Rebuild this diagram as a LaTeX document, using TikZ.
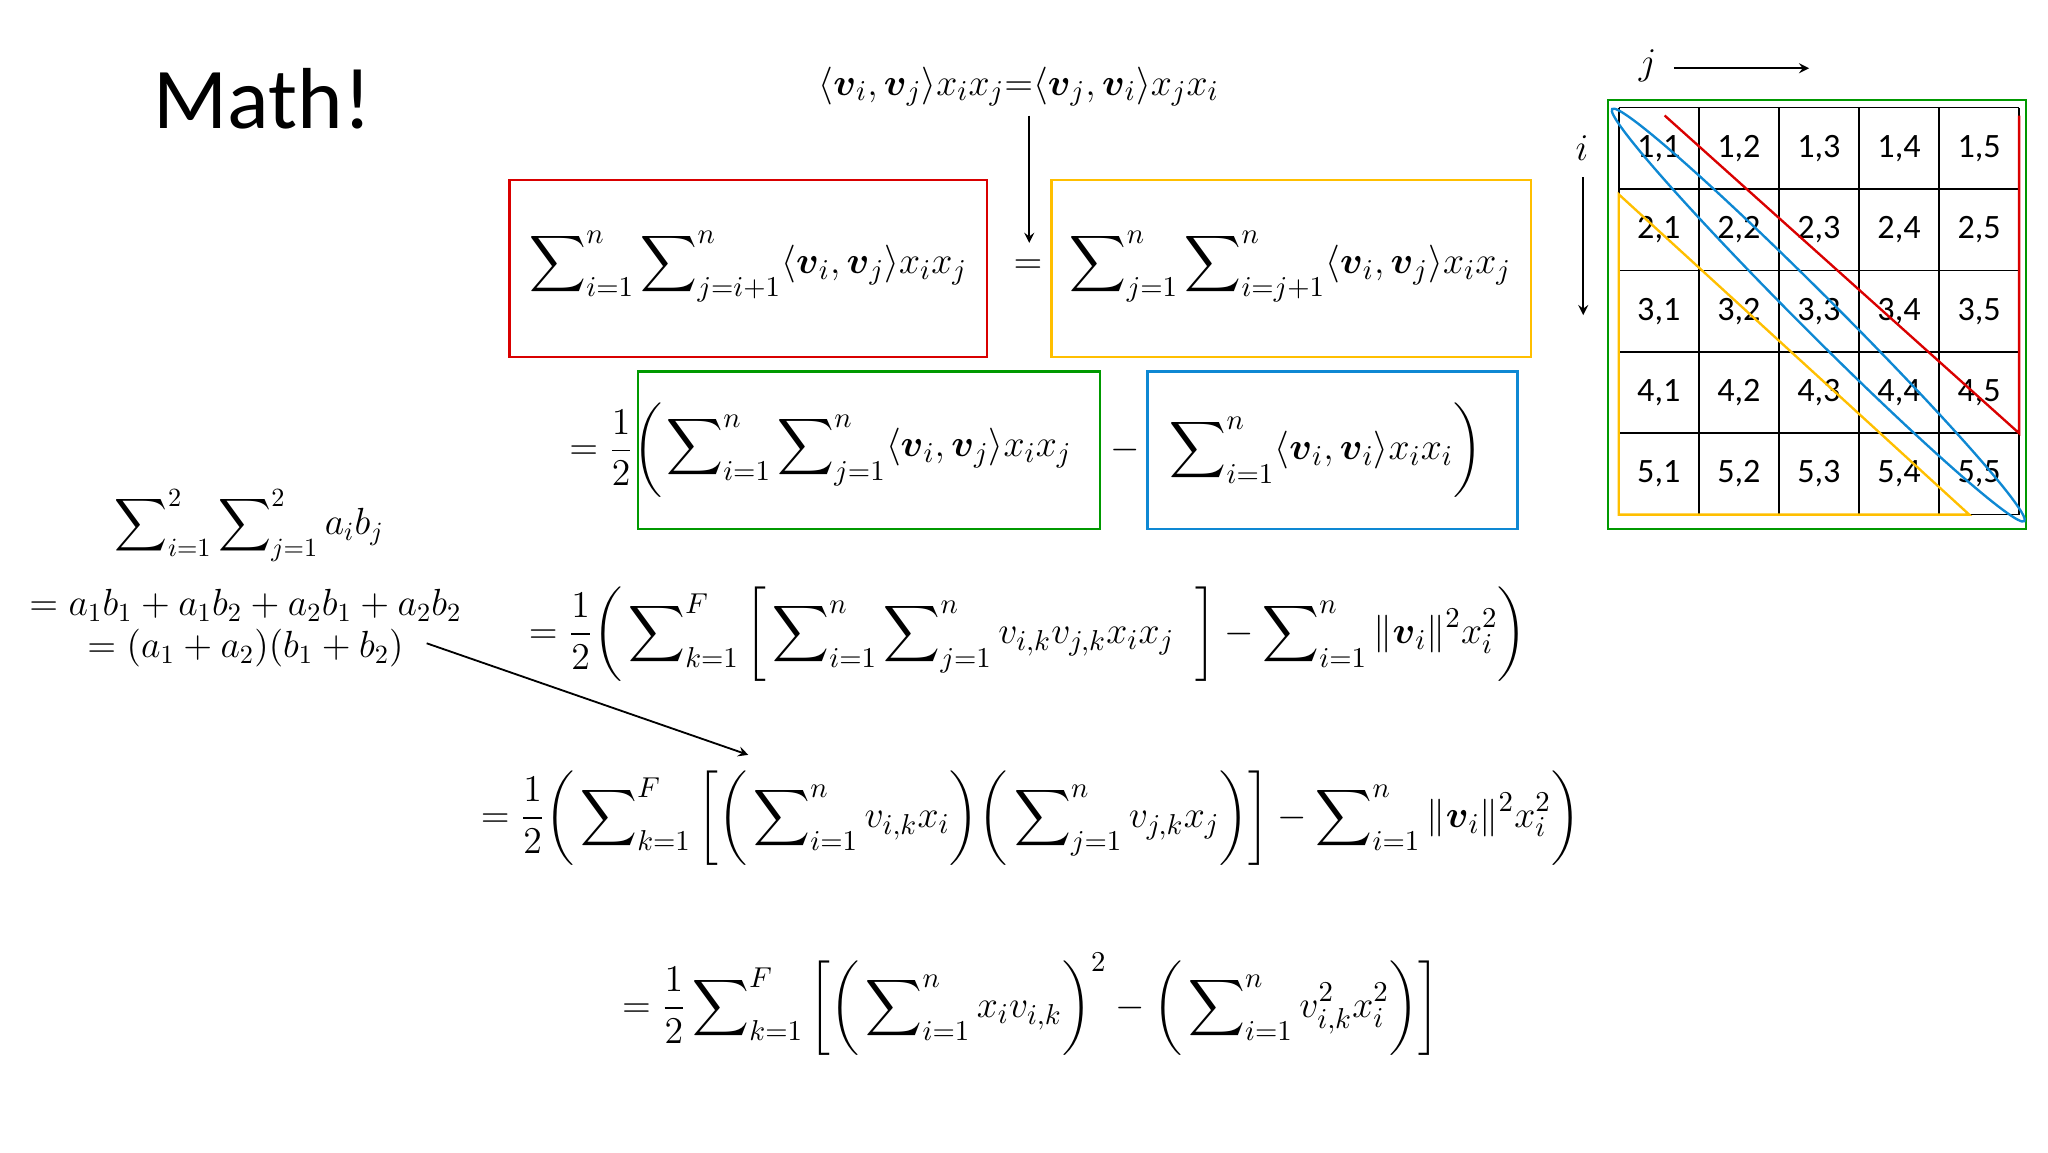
\documentclass[tikz,border=0pt]{standalone}
\usepackage{amsmath,amssymb}
\usepackage{fontspec}
\newfontfamily\carl{Carlito}
\begin{document}
\begin{tikzpicture}[x=0.5pt,y=-0.5pt,
  eq/.style={font=\fontsize{15}{17}\selectfont, inner sep=0pt},
  leq/.style={font=\fontsize{14}{16}\selectfont, inner sep=0pt},
  box/.style={draw, line width=0.9pt},
  cell/.style={font=\carl\fontsize{13}{15}\selectfont},
  arr/.style={-stealth, line width=0.7pt}]
\useasboundingbox (0,0) rectangle (1560,878);
\def\v{\boldsymbol{v}}
\node (title) at (200,75) {\carl\fontsize{33}{38}\selectfont Math!};
\node[eq] (top) at (776,66) {$\langle \v_i,\v_j\rangle x_i x_j{=}\langle \v_j,\v_i\rangle x_j x_i$};
\coordinate (ts) at (784,88);
\coordinate (te) at (784,185);
\draw[arr] (ts) -- (te);
\draw[box, red!85!black] (388,137) rectangle (752,272);
\draw[box, orange!50!yellow] (801,137) rectangle (1166,272);
\node[eq] (e1) at (570,203) {$\displaystyle\sum\nolimits_{i=1}^{n}\sum\nolimits_{j=i+1}^{n}\langle \v_i,\v_j\rangle x_i x_j$};
\node[eq] (eqs) at (783,203) {$=$};
\node[eq] (e2) at (983,203) {$\displaystyle\sum\nolimits_{j=1}^{n}\sum\nolimits_{i=j+1}^{n}\langle \v_i,\v_j\rangle x_i x_j$};
\draw[box, green!60!black] (486,283) rectangle (838,403);
\draw[box, cyan!70!blue] (874,283) rectangle (1156,403);
\node[eq, anchor=east] (h1) at (505,343) {$\displaystyle =\frac{1}{2}\bigg($};
\node[eq] (e3) at (662,343) {$\displaystyle\sum\nolimits_{i=1}^{n}\sum\nolimits_{j=1}^{n}\langle \v_i,\v_j\rangle x_i x_j$};
\node[eq] (mi) at (857,343) {$-$};
\node[eq] (e4) at (1010,343) {$\displaystyle\sum\nolimits_{i=1}^{n}\langle \v_i,\v_i\rangle x_i x_i\bigg)$};
\node[leq] (l1) at (190,400) {$\displaystyle\sum\nolimits_{i=1}^{2}\sum\nolimits_{j=1}^{2}a_i b_j$};
\node[leq] (l2) at (187,461) {$=a_1b_1+a_1b_2+a_2b_1+a_2b_2$};
\node[leq] (l3) at (187,494) {$=(a_1+a_2)(b_1+b_2)$};
\node[eq] (e5) at (783,483) {$\displaystyle =\frac{1}{2}\bigg(\sum\nolimits_{k=1}^{F}\bigg[\sum\nolimits_{i=1}^{n}\sum\nolimits_{j=1}^{n}v_{i,k}v_{j,k}x_i x_j\;\;\bigg]-\sum\nolimits_{i=1}^{n}\|\v_i\|^2x_i^2\bigg)$};
\coordinate (as) at (325,490);
\coordinate (ae) at (570,575);
\draw[arr] (as) -- (ae);
\node[eq] (e6) at (785,623) {$\displaystyle =\frac{1}{2}\bigg(\sum\nolimits_{k=1}^{F}\bigg[\bigg(\sum\nolimits_{i=1}^{n}v_{i,k}x_i\bigg)\bigg(\sum\nolimits_{j=1}^{n}v_{j,k}x_j\bigg)\bigg]-\sum\nolimits_{i=1}^{n}\|\v_i\|^2x_i^2\bigg)$};
\node[eq] (e7) at (785,765) {$\displaystyle =\frac{1}{2}\sum\nolimits_{k=1}^{F}\bigg[\bigg(\sum\nolimits_{i=1}^{n}x_i v_{i,k}\bigg)^{2}-\bigg(\sum\nolimits_{i=1}^{n}v_{i,k}^2x_i^2\bigg)\bigg]$};
% matrix
\draw[box, green!60!black] (1225,76) rectangle (1543,403);
\foreach \r in {1,...,5}{\foreach \c in {1,...,5}{
  \node[cell] (c\r\c) at ({1233+61*(\c-0.5)},{82+62*(\r-0.5)}) {\r,\c};}}
\foreach \k in {0,...,5}{
  \draw[line width=0.6pt] ({1233+61*\k},82) -- ({1233+61*\k},392);
  \draw[line width=0.6pt] (1233,{82+62*\k}) -- (1538,{82+62*\k});}
\draw[red!85!black, line width=0.9pt] (1268,88) -- (1538,330) -- (1538,88);
\draw[orange!50!yellow, line width=0.9pt] (1233,148) -- (1500,392) -- (1233,392) -- cycle;
\draw[cyan!70!blue, line width=0.9pt, rotate around={-45:(1385,240)}] (1385,240) ellipse (222 and 14);
\node[font=\fontsize{14}{16}\selectfont] (jl) at (1255,50) {$j$};
\coordinate (js) at (1275,52); \coordinate (je) at (1378,52);
\draw[arr] (js) -- (je);
\node[font=\fontsize{14}{16}\selectfont] (il) at (1205,113) {$i$};
\coordinate (is) at (1206,135); \coordinate (ie) at (1206,240);
\draw[arr] (is) -- (ie);
\end{tikzpicture}
\end{document}
